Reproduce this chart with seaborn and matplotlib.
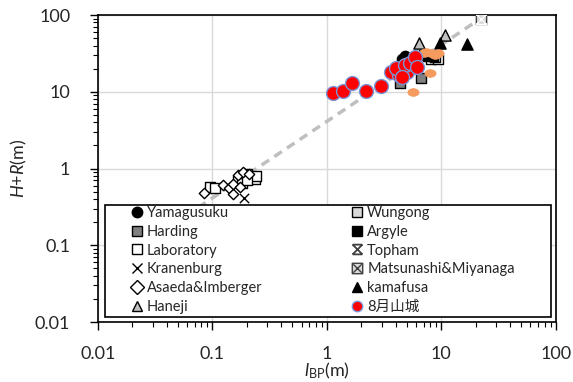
import numpy as np
import pandas as pd
import matplotlib
matplotlib.use("Agg")
import matplotlib.pyplot as plt
import seaborn as sns
from matplotlib.path import Path
from matplotlib.patches import Rectangle
from matplotlib.lines import Line2D
from matplotlib.ticker import FixedLocator, FixedFormatter, LogLocator, NullFormatter

# ---------------- data ----------------
yama_x = [4.5, 5.0, 4.8]
yama_y = [26.5, 25.0, 29.0]

harding_x = [4.35, 6.6, 4.6]
harding_y = [12.9, 15.0, 19.0]

lab_x = [0.096, 0.105, 0.168, 0.18, 0.199, 0.22, 0.235, 0.24, 0.20, 8.2, 9.3]
lab_y = [0.58, 0.56, 0.68, 0.64, 0.86, 0.78, 0.72, 0.80, 0.70, 27.0, 26.5]

kran_x = [0.188]
kran_y = [0.41]

asaeda_x = [0.085, 0.124, 0.14, 0.152, 0.168, 0.15, 0.186, 0.207, 0.175]
asaeda_y = [0.475, 0.61, 0.55, 0.47, 0.82, 0.62, 0.91, 0.86, 0.58]

haneji_x = [6.4, 10.7]
haneji_y = [43.6, 54.8]

wungong_x = [8.8, 7.6]
wungong_y = [28.0, 29.5]

argyle_x = [7.0, 8.5]
argyle_y = [30.0, 29.0]

topham_x = [22.0]
topham_y = [90.0]

matsu_x = [22.0]
matsu_y = [90.0]

kama_x = [9.7, 16.6]
kama_y = [43.6, 41.9]

orange_x = [5.6, 7.9, 7.4, 8.2, 8.8, 7.0, 9.3]
orange_y = [9.8, 17.4, 33.3, 31.7, 30.1, 32.0, 32.0]

yama8_x = [1.13, 1.37, 1.66, 2.19, 2.94, 3.6, 4.28, 5.02, 4.05, 4.8, 5.3, 5.87, 4.49, 6.07]
yama8_y = [9.55, 10.3, 13.1, 10.3, 11.9, 17.9, 16.5, 17.9, 20.2, 22.3, 23.5, 28.1, 15.7, 21.2]

fit_x = [0.075, 22.0]
fit_y = [0.31, 90.0]

tick_vals = [0.01, 0.1, 1, 10, 100]
tick_labels = ["0.01", "0.1", "1", "10", "100"]

legend_labels = ["Yamagusuku", "Harding", "Laboratory", "Kranenburg", "Asaeda&Imberger", "Haneji",
                 "Wungong", "Argyle", "Topham", "Matsunashi&Miyanaga", "kamafusa", "8月山城"]

# ---------------- style ----------------
sns.set_theme(style="white")
plt.rcParams['font.family'] = ['Lato', 'Noto Sans CJK JP', 'DejaVu Sans']
plt.rcParams['mathtext.fontset'] = 'custom'
plt.rcParams['mathtext.it'] = 'Lato:italic'
plt.rcParams['mathtext.rm'] = 'Lato'

# custom markers
topham_marker = Path([(-1, -1), (1, 1), (-1, 1), (1, -1), (-1, 1), (1, 1), (-1, -1), (1, -1)],
                     [Path.MOVETO, Path.LINETO, Path.MOVETO, Path.LINETO,
                      Path.MOVETO, Path.LINETO, Path.MOVETO, Path.LINETO])
matsu_marker = Path([(-1, -1), (1, -1), (1, 1), (-1, 1), (-1, -1),
                     (-0.8, -0.8), (0.8, 0.8), (-0.8, 0.8), (0.8, -0.8)],
                    [Path.MOVETO, Path.LINETO, Path.LINETO, Path.LINETO, Path.CLOSEPOLY,
                     Path.MOVETO, Path.LINETO, Path.MOVETO, Path.LINETO])
circ = Path.unit_circle()
ellipse_marker = Path(circ.vertices * np.array([1.45, 1.0]), circ.codes)

fig = plt.figure(figsize=(5.73, 3.82), dpi=100)
ax = fig.add_axes([0.171, 0.157, 0.799, 0.8037])

ax.set_xscale('log')
ax.set_yscale('log')
ax.set_xlim(0.01, 100)
ax.set_ylim(0.01, 100)

ax.grid(True, which='major', color='#D9D9D9', linewidth=1.0)
ax.set_axisbelow(True)

# fitted dashed line
sns.lineplot(x=fit_x, y=fit_y, ax=ax, color='#BFBFBF', linewidth=2.5, dashes=False, zorder=1.5)
ax.lines[-1].set_dashes((2.6, 1.8))

series = [
    # label, x, y, marker, face, edge, size, lw
    ("Laboratory", lab_x, lab_y, 's', 'white', 'black', 55, 1.0),
    ("Wungong", wungong_x, wungong_y, 's', '#D9D9D9', 'black', 55, 1.0),
    ("Argyle", argyle_x, argyle_y, 's', 'black', 'black', 55, 1.0),
    ("Harding", harding_x, harding_y, 's', '#7F7F7F', 'black', 55, 1.0),
    ("Yamagusuku", yama_x, yama_y, 'o', 'black', 'black', 55, 1.0),
    ("Kranenburg", kran_x, kran_y, 'x', 'black', 'black', 45, 1.0),
    ("Asaeda&Imberger", asaeda_x, asaeda_y, 'D', 'white', 'black', 28, 1.0),
    ("Haneji", haneji_x, haneji_y, '^', '#BFBFBF', 'black', 65, 1.0),
    ("Matsunashi&Miyanaga", matsu_x, matsu_y, matsu_marker, '#D9D9D9', '#404040', 55, 1.0),
    ("Topham", topham_x, topham_y, topham_marker, '#7F7F7F', '#404040', 55, 1.3),
    ("kamafusa", kama_x, kama_y, '^', 'black', 'black', 65, 1.0),
    (None, orange_x, orange_y, ellipse_marker, '#F59B5E', '#F59B5E', 65, 0.5),
    ("8月山城", yama8_x, yama8_y, 'o', '#FF0000', '#7A96D6', 100, 1.0),
]

handles = {}
for lab, xs, ys, mk, fc, ec, s, lw in series:
    kw = dict(marker=mk, s=s, linewidth=lw, ax=ax, zorder=3, legend=False)
    if mk == 'x' or mk is topham_marker:
        sns.scatterplot(x=xs, y=ys, color=ec, **kw)
    else:
        sns.scatterplot(x=xs, y=ys, color=fc, edgecolor=ec, **kw)
    if lab is not None:
        if mk == 'x' or mk is topham_marker:
            h = Line2D([], [], linestyle='none', marker=mk, markersize=7, color=ec,
                       markeredgecolor=ec, markeredgewidth=lw)
        else:
            h = Line2D([], [], linestyle='none', marker=mk, markersize=7.5,
                       markerfacecolor=fc, markeredgecolor=ec, markeredgewidth=lw)
        handles[lab] = h

# ticks
ax.xaxis.set_major_locator(FixedLocator(tick_vals))
ax.xaxis.set_major_formatter(FixedFormatter(tick_labels))
ax.yaxis.set_major_locator(FixedLocator(tick_vals))
ax.yaxis.set_major_formatter(FixedFormatter(tick_labels))
ax.xaxis.set_minor_locator(LogLocator(base=10, subs=np.arange(2, 10)))
ax.yaxis.set_minor_locator(LogLocator(base=10, subs=np.arange(2, 10)))
ax.xaxis.set_minor_formatter(NullFormatter())
ax.yaxis.set_minor_formatter(NullFormatter())
ax.tick_params(which='major', direction='out', length=6, width=1.0, color='black',
               labelsize=13, bottom=True, left=True)
ax.tick_params(axis='y', which='major', pad=14)
ax.tick_params(axis='x', which='major', pad=11)
ax.tick_params(which='minor', direction='out', length=3.5, width=0.8, color='black',
               bottom=True, left=True)

for sp in ax.spines.values():
    sp.set_color('black')
    sp.set_linewidth(1.2)

ax.set_xlabel(r'$\it{l}$$_{\mathrm{BP}}$(m)', fontsize=13, labelpad=-1)
ax.set_ylabel(r'$\it{H}$+$\it{R}$(m)', fontsize=13, labelpad=4)

# legend frame
rect = Rectangle((0.0153, 0.0163), 0.974, 0.365, transform=ax.transAxes,
                 facecolor='white', edgecolor='black', linewidth=1.2, zorder=5)
ax.add_patch(rect)

col1 = legend_labels[:6]
col2 = legend_labels[6:]
leg_kw = dict(frameon=False, loc='upper left', borderpad=0, borderaxespad=0,
              handlelength=0.8, handletextpad=0.3, labelspacing=0.33, fontsize=10.5)
leg1 = ax.legend([handles[l] for l in col1], col1, bbox_to_anchor=(0.072, 0.378), **leg_kw)
leg1.set_zorder(6)
ax.add_artist(leg1)
leg2 = ax.legend([handles[l] for l in col2], col2, bbox_to_anchor=(0.553, 0.378), **leg_kw)
leg2.set_zorder(6)

fig.savefig("out.png", dpi=100)
